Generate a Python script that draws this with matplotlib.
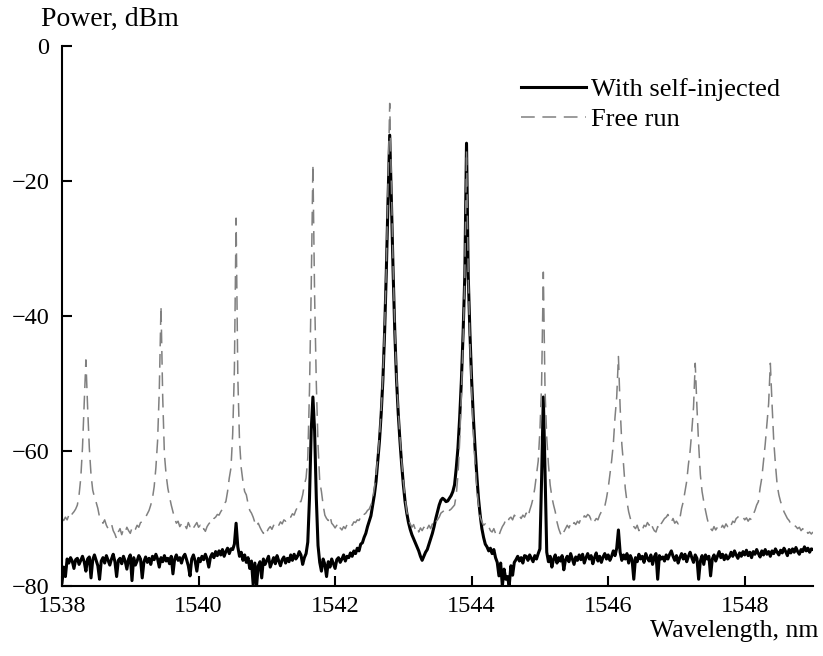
import numpy as np
import matplotlib
matplotlib.use("Agg")
import matplotlib.pyplot as plt

# ---- data ----
WL_START = 1538.0
WL_STEP = 0.025  # nm, sampling grid of both traces

# Free run (dashed grey), dBm, one row = 0.1 nm
free_run = [
    -70.0, -70.3, -69.8, -70.2,  -69.5, -69.9, -69.3, -69.0,  -68.6, -68.0, -66.5, -64.0,
    -59.5, -53.0, -46.5, -53.5,  -59.5, -63.5, -65.8, -66.8,  -67.6, -68.5, -69.8, -70.2,
    -70.7, -70.2, -71.0, -71.5,  -71.2, -70.8, -71.8, -72.3,  -73.0, -72.0, -71.5, -72.4,
    -71.6, -72.0, -71.3, -71.8,  # 1539
    -72.2, -71.4, -71.9, -71.6,  -71.0, -71.3, -70.6, -70.5,  -70.2, -69.8, -69.3, -68.8,
    -68.0, -67.0, -65.3, -62.5,  -58.5, -51.0, -38.5, -52.0,  -60.5, -63.5, -65.5, -66.8,
    -68.0, -69.0, -70.0, -70.7,  -70.4, -71.2, -70.8, -71.3,  -71.0, -71.5, -70.6, -71.2,
    -70.8, -71.4, -71.0, -70.6,  # 1540
    -71.3, -71.0, -71.8, -71.5,  -71.9, -71.2, -70.8, -70.5,  -70.7, -70.0, -69.8, -69.4,
    -69.5, -69.0, -68.6, -67.8,  -67.5, -66.0, -64.0, -62.5,  -57.5, -48.0, -25.5, -49.0,
    -58.5, -62.5, -64.5, -66.0,  -66.5, -67.8, -68.8, -69.2,  -69.8, -70.6, -71.2, -70.7,
    -71.3, -71.8, -72.2, -71.6,  # 1541
    -72.0, -71.5, -71.2, -71.6,  -71.0, -71.3, -70.8, -71.0,  -70.5, -70.8, -70.2, -70.4,
    -70.0, -69.6, -69.8, -69.3,  -69.5, -68.8, -68.3, -67.5,  -67.5, -66.5, -65.0, -64.0,
    -61.0, -51.0, -36.0, -17.5,  -37.0, -50.0, -59.0, -64.5,  -66.0, -68.0, -69.5, -70.0,
    -70.3, -69.6, -70.7, -71.0,  # 1542
    -71.4, -71.0, -71.8, -71.4,  -71.7, -71.2, -71.5, -70.9,  -71.2, -70.8, -71.0, -70.5,
    -70.6, -70.2, -70.3, -69.8,  -70.0, -69.4, -69.2, -68.8,  -68.6, -68.0, -67.0, -65.5,
    -63.5, -61.0, -58.0, -54.0,  -49.0, -42.0, -33.0, -21.0,  -8.5, -21.0, -33.0, -42.0,
    -49.0, -54.0, -58.0, -61.5,  # 1543
    -64.5, -67.0, -69.0, -70.2,  -70.8, -71.3, -70.9, -71.6,  -71.2, -72.0, -71.4, -71.8,
    -71.3, -72.0, -71.5, -71.0,  -71.5, -70.8, -71.2, -70.5,  -70.2, -69.8, -69.2, -69.0,
    -68.8, -69.0, -68.6, -68.8,  -68.6, -68.3, -68.0, -66.5,  -63.5, -58.5, -51.5, -43.5,
    -34.0, -15.5, -34.0, -43.5,  # 1544
    -51.0, -57.0, -62.0, -65.5,  -68.0, -69.8, -70.5, -71.0,  -70.8, -71.4, -71.2, -71.8,
    -72.0, -71.5, -72.2, -72.7,  -72.5, -71.8, -71.2, -70.8,  -70.2, -70.6, -70.0, -69.8,
    -70.2, -69.5, -69.8, -69.4,  -69.6, -70.0, -69.5, -69.8,  -69.2, -69.8, -68.8, -68.0,
    -67.0, -65.5, -63.5, -61.5,  # 1545
    -57.0, -50.0, -33.5, -51.0,  -58.0, -62.0, -65.0, -66.8,  -68.0, -69.0, -70.5, -71.5,
    -72.2, -72.7, -72.0, -71.5,  -71.0, -71.4, -70.8, -71.2,  -70.6, -70.9, -70.4, -70.7,
    -70.0, -70.3, -69.6, -69.8,  -69.4, -69.6, -70.2, -69.8,  -70.4, -70.0, -70.2, -69.5,
    -69.0, -68.8, -68.2, -67.0,  # 1546
    -65.5, -63.5, -61.5, -59.0,  -55.0, -52.0, -46.0, -53.5,  -59.0, -62.0, -65.5, -67.5,
    -69.0, -70.0, -70.5, -71.2,  -71.5, -71.0, -71.8, -71.3,  -71.7, -71.0, -71.2, -70.6,
    -71.0, -70.5, -71.3, -71.8,  -72.0, -71.2, -71.6, -70.8,  -70.4, -70.0, -69.8, -69.4,
    -70.2, -70.5, -70.0, -70.7,  # 1547
    -70.4, -70.8, -70.0, -68.5,  -67.5, -66.0, -64.5, -62.0,  -60.0, -57.0, -53.5, -47.0,
    -53.5, -59.0, -63.5, -66.0,  -67.5, -68.8, -70.0, -71.0,  -71.5, -71.8, -71.2, -71.7,
    -71.3, -71.8, -71.5, -71.0,  -71.4, -70.8, -71.2, -70.6,  -71.0, -70.4, -70.6, -70.0,
    -69.8, -69.4, -69.6, -69.8,  # 1548
    -70.2, -69.9, -70.4, -70.0,  -70.2, -69.4, -68.8, -68.0,  -67.5, -65.5, -64.0, -61.5,
    -59.0, -56.0, -53.0, -47.0,  -53.0, -58.5, -62.0, -65.0,  -66.5, -67.5, -68.2, -69.0,
    -69.5, -70.0, -70.3, -70.8,  -70.6, -71.0, -71.2, -71.5,  -71.3, -71.8, -71.5, -72.0,
    -71.7, -72.2, -72.0, -72.3,  # 1549
    -72.0,
]

# With self-injected (solid black), dBm, same grid
self_injected = [
    -79.5, -77.2, -78.6, -76.0,  -76.6, -75.8, -76.3, -77.4,  -76.1, -75.9, -76.8, -76.2,
    -75.6, -76.4, -77.8, -76.0,  -75.7, -78.8, -76.1, -75.4,  -76.2, -77.0, -79.0, -76.3,
    -75.8, -76.6, -75.5, -76.2,  -76.9, -76.0, -75.3, -76.4,  -78.6, -76.2, -75.9, -76.7,
    -75.6, -76.3, -77.5, -76.0,  # 1539
    -75.4, -79.2, -75.8, -76.9,  -76.3, -75.5, -76.0, -78.8,  -76.4, -75.7, -76.5, -75.9,
    -76.8, -75.6, -76.1, -75.3,  -76.0, -77.2, -75.8, -76.4,  -75.5, -76.3, -75.9, -76.7,
    -75.6, -78.2, -76.0, -75.4,  -76.2, -75.8, -76.6, -75.7,  -75.3, -76.1, -77.0, -78.5,
    -76.0, -75.4, -76.3, -77.8,  # 1540
    -75.9, -76.4, -75.6, -76.1,  -75.3, -76.0, -77.2, -75.7,  -75.2, -75.8, -74.9, -75.5,
    -74.8, -75.4, -74.6, -75.6,  -74.9, -74.4, -75.2, -74.5,  -74.6, -73.8, -70.7, -74.2,
    -75.6, -75.0, -76.2, -75.4,  -76.5, -75.8, -77.4, -76.3,  -79.8, -76.6, -80.0, -77.0,
    -76.4, -78.8, -76.0, -76.8,  # 1541
    -76.2, -75.6, -77.2, -76.5,  -75.8, -76.7, -75.5, -76.3,  -77.0, -76.1, -75.7, -76.6,
    -75.9, -76.4, -75.4, -76.2,  -75.3, -76.0, -75.6, -74.9,  -75.4, -76.8, -75.8, -75.2,
    -73.5, -67.0, -57.0, -52.0,  -57.0, -67.0, -74.0, -76.5,  -77.8, -76.0, -76.8, -78.6,
    -76.4, -77.2, -76.0, -76.7,  # 1542
    -77.4, -76.1, -75.8, -76.5,  -76.0, -75.4, -76.3, -75.6,  -75.8, -75.1, -75.6, -74.8,
    -75.2, -74.4, -74.8, -73.8,  -73.6, -72.8, -72.2, -71.2,  -70.4, -69.6, -68.0, -66.5,
    -64.5, -61.5, -58.5, -54.5,  -49.5, -42.5, -33.5, -23.0,  -13.2, -23.0, -33.5, -42.5,
    -49.5, -54.5, -58.5, -62.0,  # 1543
    -65.0, -67.5, -69.2, -70.6,  -71.6, -72.4, -73.0, -73.6,  -74.2, -74.8, -75.6, -76.2,
    -75.6, -75.0, -74.6, -73.8,  -73.0, -72.2, -71.2, -70.0,  -69.0, -68.0, -67.3, -67.0,
    -67.2, -67.5, -67.4, -67.0,  -66.6, -66.0, -65.0, -62.5,  -59.5, -55.0, -49.5, -42.5,
    -34.0, -14.4, -34.0, -42.5,  # 1544
    -49.5, -55.0, -59.5, -63.5,  -67.0, -69.5, -71.5, -72.8,  -73.8, -74.2, -74.8, -74.4,
    -75.2, -74.6, -75.8, -76.5,  -78.5, -76.6, -80.0, -77.5,  -79.0, -78.6, -80.0, -77.0,
    -78.4, -76.5, -76.1, -75.6,  -76.3, -75.8, -76.6, -75.5,  -75.6, -76.2, -75.4, -75.9,
    -76.4, -75.5, -76.0, -75.2,  # 1545
    -74.5, -64.0, -52.0, -63.0,  -75.0, -76.4, -75.6, -77.2,  -76.0, -75.4, -76.6, -75.8,
    -76.3, -75.5, -77.6, -76.1,  -75.6, -76.4, -75.2, -76.0,  -76.8, -75.7, -76.2, -75.4,
    -76.1, -75.3, -76.6, -75.8,  -75.2, -76.0, -75.5, -76.7,  -75.8, -75.1, -76.3, -75.6,
    -76.5, -75.7, -75.2, -76.0,  # 1546
    -75.4, -76.2, -75.6, -74.8,  -75.5, -74.4, -71.7, -75.0,  -76.2, -75.4, -76.0, -75.2,
    -76.6, -75.5, -76.1, -79.0,  -75.8, -76.4, -75.3, -76.0,  -75.6, -76.5, -75.2, -75.9,
    -76.3, -75.4, -76.8, -75.7,  -75.2, -79.0, -75.5, -76.0,  -75.7, -76.3, -75.4, -76.0,
    -75.3, -74.8, -75.6, -76.2,  # 1547
    -75.5, -76.6, -75.8, -75.2,  -76.0, -75.3, -76.4, -75.6,  -75.0, -75.8, -76.5, -75.4,
    -75.9, -79.0, -76.3, -75.5,  -76.8, -75.4, -76.0, -75.6,  -78.5, -76.0, -75.4, -76.3,
    -75.6, -74.9, -75.8, -75.3,  -76.1, -75.4, -76.0, -75.7,  -75.0, -75.6, -74.8, -75.4,
    -75.9, -75.1, -75.6, -74.9,  # 1548
    -75.4, -74.7, -75.5, -75.0,  -75.8, -74.9, -75.3, -74.6,  -75.2, -75.7, -74.8, -75.4,
    -74.6, -75.3, -74.9, -75.6,  -74.8, -75.2, -74.5, -75.0,  -75.4, -74.7, -75.1, -74.4,
    -74.9, -75.5, -74.6, -75.1,  -74.5, -75.0, -74.3, -74.9,  -75.3, -74.6, -74.9, -74.2,
    -74.8, -74.4, -75.0, -74.5,  # 1549
    -74.6,
]

x_ticks = [1538, 1540, 1542, 1544, 1546, 1548]
y_ticks = [0, -20, -40, -60, -80]
labels = ["With self-injected", "Free run"]

wavelength = WL_START + WL_STEP * np.arange(len(free_run))

# ---- figure ----
plt.rcParams['font.family'] = ['Liberation Serif', 'DejaVu Serif']
plt.rcParams['axes.unicode_minus'] = True

fig = plt.figure(figsize=(8.23, 6.56), dpi=100)
ax = fig.add_axes([62 / 823, 1 - 586 / 656, (813 - 62) / 823, (586 - 46) / 656])

ax.plot(wavelength, self_injected, color='black', lw=2.2, label=labels[0],
        solid_joinstyle='round')
ax.plot(wavelength, free_run, color='#808080', lw=1.1, dashes=(9, 5),
        label=labels[1])

ax.set_xlim(1538, 1549)
ax.set_ylim(-80, 0)
ax.set_xticks(x_ticks)
ax.set_yticks(y_ticks)
ax.set_yticklabels(["0", "\u221220", "\u221240", "\u221260", "\u221280"])

for s in ['top', 'right']:
    ax.spines[s].set_visible(False)
for s in ['left', 'bottom']:
    ax.spines[s].set_linewidth(1.5)

ax.tick_params(axis='both', direction='in', length=7, width=1.5, labelsize=17.5)
ax.tick_params(axis='x', pad=7)
ax.tick_params(axis='y', pad=9)

fig.text(41 / 823, 1 - 26 / 656, "Power, dBm", fontsize=20, ha='left', va='baseline')
fig.text(818 / 823, 1 - 637 / 656, "Wavelength, nm", fontsize=18.5, ha='right',
         va='baseline')

leg = ax.legend(loc='upper left', bbox_to_anchor=(521 / 823, 1 - 78 / 656),
                bbox_transform=fig.transFigure, frameon=False, fontsize=19,
                handlelength=2.45, handletextpad=0.2, borderpad=0, borderaxespad=0,
                labelspacing=0.22)

fig.savefig("out.png", dpi=100)
